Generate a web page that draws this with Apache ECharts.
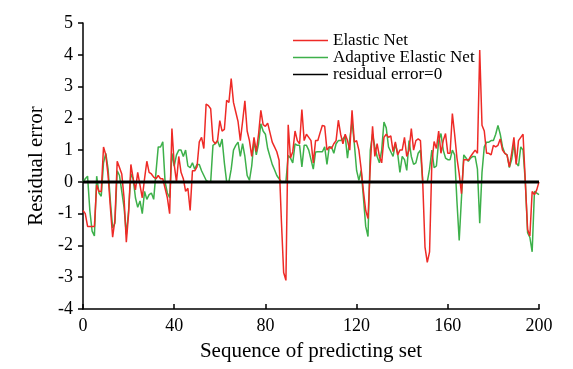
<!DOCTYPE html>
<html>
<head>
<meta charset="utf-8">
<script src="https://cdn.jsdelivr.net/npm/echarts@6/dist/echarts.min.js"></script>
<style>
html,body{margin:0;padding:0;background:#fff;}
#chart{width:573px;height:369px;}
</style>
</head>
<body>
<div id="chart"></div>
<script>
// Residual errors, sample index 0..200
var elasticNet = [
 -0.9,-1.0,-1.4,-1.4,-1.4,-1.4,-0.1,-0.3,-0.3,1.1,
 0.85,0.2,-0.8,-1.74,-1.2,0.65,0.45,0.25,-0.5,-1.9,
 -1.0,0.55,0.1,-0.25,0.3,-0.1,-0.5,0.1,0.65,0.3,
 0.25,0.15,0.1,0.2,0.1,0.1,-0.2,-0.5,-1.0,1.68,
 0.55,0.0,0.8,0.3,0.1,-0.3,-0.2,-0.9,0.35,0.35,
 0.47,1.26,1.4,1.05,2.45,2.4,2.3,1.3,1.2,1.3,
 1.93,1.6,1.65,2.57,2.5,3.25,2.5,2.2,1.9,1.3,
 1.9,2.55,1.6,1.3,0.8,1.4,0.95,1.5,2.25,1.8,
 1.75,1.85,1.55,1.25,1.1,0.95,0.68,-1.2,-2.85,-3.1,
 1.8,0.75,0.95,1.6,1.3,1.2,2.28,1.3,1.5,1.4,
 1.3,0.6,1.3,1.3,1.55,1.78,1.75,1.0,1.1,1.05,
 1.2,1.3,1.94,1.5,1.2,1.5,1.3,1.0,2.25,1.25,
 1.3,1.0,0.4,-0.3,-0.9,-1.15,0.5,1.75,0.8,1.2,
 0.8,0.6,1.4,1.5,1.4,1.45,0.95,1.26,0.85,1.0,
 1.0,1.4,0.8,1.0,1.68,1.0,1.3,1.35,1.3,0.0,
 -2.05,-2.53,-2.2,0.6,1.27,1.05,1.6,0.9,1.3,1.52,
 0.9,0.9,2.15,1.5,0.76,0.25,-0.37,0.7,0.7,0.68,
 0.8,0.9,1.0,0.9,4.15,1.78,1.6,0.9,0.9,0.85,
 1.15,1.1,1.15,1.35,1.0,0.9,0.84,0.47,0.9,1.4,
 0.55,1.3,1.4,1.5,0.0,-1.5,-1.7,-0.3,-0.4,-0.25,
 0.0
];
var adaptiveElasticNet = [
 0.0,0.1,0.18,-0.9,-1.55,-1.7,0.18,-0.35,-0.45,0.6,
 0.9,0.4,-0.6,-1.45,-1.3,0.35,0.2,-0.3,-0.8,-1.65,
 -0.9,0.25,0.1,-0.5,-0.8,-0.6,-1.0,-0.3,-0.55,-0.4,
 -0.35,-0.55,0.3,1.1,1.1,1.26,0.0,-0.35,-0.5,0.9,
 0.5,0.85,1.0,1.0,0.8,1.0,0.5,0.45,0.6,0.4,
 0.55,0.55,0.35,0.2,0.05,0.0,0.0,1.15,1.2,1.3,
 1.1,1.35,0.6,0.0,0.0,0.4,1.0,1.15,1.25,0.8,
 1.2,0.8,0.2,0.05,0.5,1.3,0.85,1.2,1.83,1.6,
 1.5,1.05,0.8,0.55,0.38,0.2,0.1,0.0,0.0,0.0,
 0.83,0.75,0.6,1.2,1.15,1.15,0.47,1.15,1.15,1.0,
 0.7,0.4,0.94,0.95,0.95,0.95,1.1,0.55,1.1,1.1,
 0.9,1.2,1.3,1.3,1.35,1.45,0.75,1.35,1.9,1.2,
 0.36,0.05,0.36,-0.5,-1.4,-1.72,1.0,1.5,1.1,0.8,
 0.6,1.0,1.88,1.7,1.1,0.95,0.8,1.2,0.9,0.3,
 0.8,0.7,0.36,1.3,0.8,0.55,0.6,0.9,1.0,0.0,
 0.0,0.0,0.4,1.0,0.45,0.5,1.3,1.52,1.0,0.75,
 0.7,0.7,1.0,0.85,-0.6,-1.84,-0.5,0.85,0.75,0.65,
 0.75,0.8,0.8,0.4,-1.3,0.3,1.1,1.25,1.25,1.3,
 1.3,1.5,1.78,1.5,1.1,0.9,0.85,0.45,0.7,1.2,
 0.6,0.5,1.1,1.0,0.0,-1.6,-1.75,-2.2,-0.3,-0.35,
 -0.4
];
var zeroLine = [[0,0],[200,0]];
var xTicks = [0,40,80,120,160,200];
var yTicks = [-4,-3,-2,-1,0,1,2,3,4,5];

function pairs(arr){ return arr.map(function(v,i){ return [i,v]; }); }

var font = 'Liberation Serif, Times New Roman, serif';
var chart = echarts.init(document.getElementById('chart'), null, {renderer:'canvas'});
chart.setOption({
  backgroundColor:'#ffffff',
  animation:false,
  grid:{left:83, right:34, top:23, bottom:60, containLabel:false},
  legend:{
    orient:'vertical', left:288, top:27, itemWidth:35, itemHeight:1.5, itemGap:0,
    icon:'rect', padding:5,
    textStyle:{fontFamily:font, fontSize:17, color:'#000', lineHeight:15.5},
    data:['Elastic Net','Adaptive Elastic Net','residual error=0']
  },
  xAxis:{
    type:'value', min:xTicks[0], max:xTicks[xTicks.length-1], interval:40,
    name:'Sequence of predicting set', nameLocation:'middle', nameGap:32,
    nameTextStyle:{fontFamily:font, fontSize:21, color:'#000'},
    axisLine:{onZero:false, lineStyle:{color:'#000', width:1.5}},
    axisTick:{inside:true, length:5, lineStyle:{color:'#000', width:1.5}},
    axisLabel:{fontFamily:font, fontSize:18, color:'#000', margin:8},
    splitLine:{show:false}
  },
  yAxis:{
    type:'value', min:yTicks[0], max:yTicks[yTicks.length-1], interval:1,
    name:'Residual error', nameLocation:'middle', nameGap:31,
    nameTextStyle:{fontFamily:font, fontSize:21, color:'#000'},
    axisLine:{show:true, lineStyle:{color:'#000', width:1.5}},
    axisTick:{show:true, inside:false, length:5, lineStyle:{color:'#000', width:1.5}},
    axisLabel:{fontFamily:font, fontSize:18, color:'#000', margin:10},
    splitLine:{show:false}
  },
  series:[
    {name:'Adaptive Elastic Net', type:'line', data:pairs(adaptiveElasticNet), showSymbol:false, symbol:'none',
     lineStyle:{color:'#3db04a', width:1.5}, itemStyle:{color:'#3db04a'}, z:2},
    {name:'Elastic Net', type:'line', data:pairs(elasticNet), showSymbol:false, symbol:'none',
     lineStyle:{color:'#ee2a26', width:1.5}, itemStyle:{color:'#ee2a26'}, z:3},
    {name:'residual error=0', type:'line', data:zeroLine, showSymbol:false, symbol:'none',
     lineStyle:{color:'#000', width:3}, itemStyle:{color:'#000'}, z:4}
  ]
});
</script>
</body>
</html>
